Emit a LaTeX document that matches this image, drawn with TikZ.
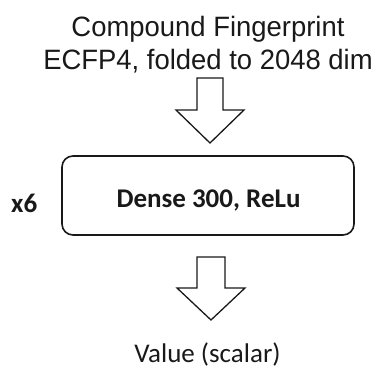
\documentclass[tikz,border=0pt]{standalone}
\usepackage{fontspec}
\setmainfont{Liberation Sans}
\newfontfamily\calib{Carlito}
\usetikzlibrary{positioning}
\definecolor{ink}{rgb}{0.1,0.1,0.1}
\tikzset{fatarrow/.style={draw=ink, line width=1.3pt, line join=miter}}
\tikzset{layerbox/.style={draw=ink, line width=1.6pt, rounded corners=11pt, minimum width=292pt, minimum height=79pt}}
\tikzset{lbl/.style={text=ink, inner sep=0pt, anchor=base}}
\begin{document}
\begin{tikzpicture}[x=1pt,y=-1pt]
\useasboundingbox (0,0) rectangle (376,369);
\node[lbl, align=center, anchor=north, xscale=0.98, transform shape, font=\fontsize{28}{33}\selectfont] (title) at (208,16) {Compound Fingerprint\\ECFP4, folded to 2048 dim};
\node[layerbox] (dense) at (208,195.5) {};
\node[lbl, font=\calib\bfseries\fontsize{27}{30}\selectfont] (densetxt) at (208.5,208) {Dense 300, ReLu};
\node[lbl, anchor=base west, font=\calib\bfseries\fontsize{27}{30}\selectfont] (rep) at (11,213) {x6};
\node[lbl, font=\calib\fontsize{27}{30}\selectfont] (value) at (207.5,363) {Value (scalar)};
% block arrows
\coordinate (arrIn) at (210,78);
\coordinate (arrOut) at (211,257);
\draw[fatarrow] (arrIn) ++(-13,0) -- ++(0,32) -- ++(-21,0) -- ++(34,33) -- ++(34,-33) -- ++(-21,0) -- ++(0,-32) -- cycle;
\draw[fatarrow] (arrOut) ++(-14,0) -- ++(0,31) -- ++(-20,0) -- ++(34,32) -- ++(34,-32) -- ++(-20,0) -- ++(0,-31) -- cycle;
\end{tikzpicture}
\end{document}
